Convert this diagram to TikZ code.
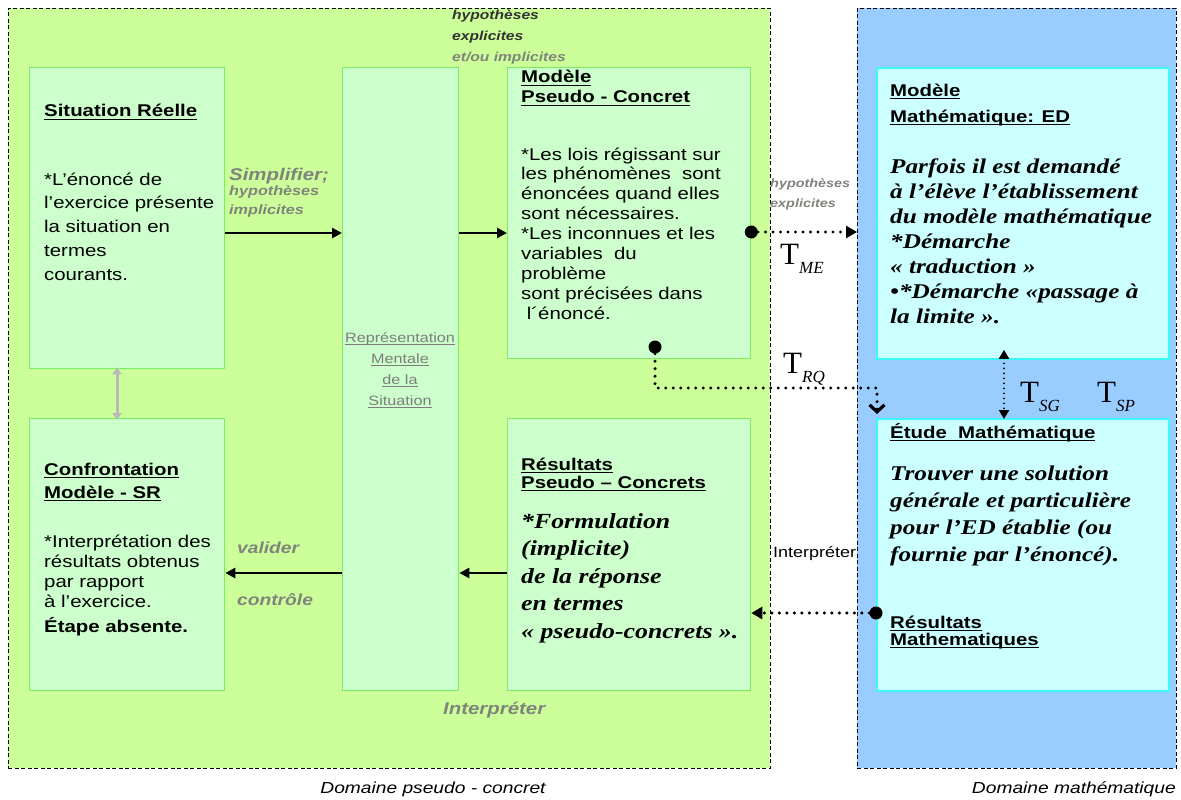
\documentclass[tikz,border=0pt]{standalone}
\usepackage{fontspec}
\setmainfont{Liberation Sans}[FakeStretch=1.2]
\newfontfamily\palf{Liberation Serif}[FakeStretch=1.2]
\newfontfamily\tmsf{Liberation Serif}
\newsavebox\myulbox
\newcommand\myul[1]{\sbox\myulbox{#1}\leavevmode\rlap{\rule[-3pt]{\wd\myulbox}{1.4pt}}\usebox\myulbox}
\newcommand\lstack[2][l]{\begin{tabular}[t]{@{}#1@{}}#2\end{tabular}}
\usetikzlibrary{arrows.meta}
\definecolor{greendom}{RGB}{204,255,153}
\definecolor{bluedom}{RGB}{153,204,255}
\definecolor{gboxfill}{RGB}{204,255,204}
\definecolor{gboxline}{RGB}{120,238,100}
\definecolor{cboxfill}{RGB}{204,255,255}
\definecolor{cboxline}{RGB}{60,250,250}
\definecolor{labgray}{RGB}{128,132,124}
\definecolor{repgray}{RGB}{125,125,125}
\definecolor{arrgray}{RGB}{185,185,185}
\newcommand\Tlab[1]{{\tmsf\fontsize{31}{31}\selectfont T}\raisebox{-9pt}{\tmsf\itshape\fontsize{17}{17}\selectfont #1}}
\begin{document}
\begin{tikzpicture}[x=1pt,y=-1pt,
  dom/.style={draw=black, line width=0.9pt, dash pattern=on 4pt off 2.5pt, inner sep=0, anchor=north west},
  gbox/.style={draw=gboxline, line width=1.3pt, fill=gboxfill, inner sep=0, anchor=north west},
  cbox/.style={draw=cboxline, line width=1.8pt, fill=cboxfill, inner sep=0, anchor=north west},
  txt/.style={anchor=base west, inner sep=0},
  ttl/.style={txt, font=\fontsize{17}{18}\selectfont\bfseries},
  body/.style={txt, font=\fontsize{17}{19.5}\selectfont},
  serifbody/.style={txt, font=\palf\fontsize{21}{25}\selectfont\bfseries\itshape},
  glab/.style={txt, text=labgray, font=\bfseries\itshape\fontsize{13}{18}\selectfont},
  bigarrow/.style={line width=2.6pt, -{Triangle[length=10pt,width=10pt]}},
  dotline/.style={line width=3.4pt, dash pattern=on 0pt off 7.5pt, line cap=round},
  dotc/.style={circle, fill=black, inner sep=0, minimum size=13pt},
]
\useasboundingbox (0,0) rectangle (1181,800);
\fill[white] (0,0) rectangle (1181,800);

% domains
\node[dom, fill=greendom, minimum width=762pt, minimum height=760pt] (gdom) at (8,8) {};
\node[dom, fill=bluedom, minimum width=319pt, minimum height=760pt] (bdom) at (857,8) {};

% boxes
\node[gbox, minimum width=195pt, minimum height=301pt] (sitr) at (29,67) {};
\node[gbox, minimum width=195pt, minimum height=272pt] (conf) at (29,418) {};
\node[gbox, minimum width=116pt, minimum height=623pt] (rep) at (342,67) {};
\node[gbox, minimum width=243pt, minimum height=291pt] (mpc) at (507,67) {};
\node[gbox, minimum width=243pt, minimum height=272pt] (rpc) at (507,418) {};
\node[cbox, minimum width=292pt, minimum height=291pt] (mm) at (876,67) {};
\node[cbox, minimum width=292pt, minimum height=272pt] (em) at (876,418) {};

% Situation reelle
\node[ttl] (sitrT) at (44,117) {\myul{Situation Réelle}};
\node[txt, font=\fontsize{17}{23.8}\selectfont] (sitrB) at (44,185) {\lstack{*L’énoncé de\\l’exercice présente\\la situation en\\termes\\courants.}};

% Modele pseudo-concret
\node[ttl, font=\fontsize{17}{20}\selectfont\bfseries] (mpcT) at (521,83) {\lstack{\myul{Modèle}\\\myul{Pseudo - Concret}}};
\node[body, font=\fontsize{17}{19.9}\selectfont] (mpcB) at (521,160) {\lstack{*Les lois régissant sur\\les phénomènes\ \ sont\\énoncées quand elles\\sont nécessaires.\\{}*Les inconnues et les\\variables\ \ du\\problème\\sont précisées dans\\\ l´énoncé.}};

% Confrontation
\node[ttl, font=\fontsize{17}{23}\selectfont\bfseries] (confT) at (44,475) {\lstack{\myul{Confrontation}\\\myul{Modèle - SR}}};
\node[body, font=\fontsize{17}{20}\selectfont] (confB) at (44,547) {\lstack{*Interprétation des\\résultats obtenus\\par rapport\\à l’exercice.}};
\node[txt, font=\fontsize{17}{19}\selectfont\bfseries] (confE) at (44,632) {Étape absente.};

% Resultats pseudo-concrets
\node[ttl, font=\fontsize{17}{18}\selectfont\bfseries] (rpcT) at (521,470) {\lstack{\myul{Résultats}\\\myul{Pseudo – Concrets}}};
\node[serifbody, font=\palf\fontsize{21.5}{27.5}\selectfont\bfseries\itshape] (rpcB) at (521,528) {\lstack{*Formulation\\(implicite)\\de la réponse\\en termes\\« pseudo-concrets ».}};

% Representation mentale
\node[anchor=base, inner sep=0, text=repgray, font=\fontsize{13.5}{21}\selectfont] (repT) at (400,342) {\lstack[c]{\myul{Représentation}\\\myul{Mentale}\\\myul{de la}\\\myul{Situation}}};

% Modele mathematique
\node[ttl, font=\fontsize{17}{26}\selectfont\bfseries] (mmT) at (890,96) {\lstack{\myul{Modèle}\\\myul{Mathématique: ED}}};
\node[serifbody] (mmB) at (890,173) {\lstack{Parfois il est demandé\\à l’élève l’établissement\\du modèle mathématique\\{}*Démarche\\« traduction »\\•*Démarche «passage à\\la limite ».}};

% Etude mathematique
\node[ttl] (emT) at (890,438) {\myul{Étude\ \ Mathématique}};
\node[serifbody, font=\palf\fontsize{21}{27.3}\selectfont\bfseries\itshape] (emB) at (890,480) {\lstack{Trouver une solution\\générale et particulière\\pour l’ED établie (ou\\fournie par l’énoncé).}};
\node[ttl, font=\fontsize{17}{17}\selectfont\bfseries] (emR) at (890,628) {\lstack{\myul{Résultats}\\\myul{Mathematiques}}};

% top labels
\node[txt, font=\bfseries\itshape\fontsize{13}{20.5}\selectfont, text=black!80] (hypT) at (452,20) {\lstack{hypothèses\\explicites}};
\node[txt, font=\bfseries\itshape\fontsize{13}{20}\selectfont, text=labgray] (hypT2) at (452,62) {et/ou implicites};

% arrows between boxes
\coordinate (ya) at (0,233);
\coordinate (yb) at (0,573);
\draw[bigarrow] (sitr.east |- ya) -- (rep.west |- ya);
\draw[bigarrow] (rep.east |- ya) -- (mpc.west |- ya);
\draw[bigarrow] (rep.west |- yb) -- (conf.east |- yb);
\draw[bigarrow] (rpc.west |- yb) -- (rep.east |- yb);

\node[txt, text=labgray, font=\bfseries\itshape\fontsize{17}{18}\selectfont] (simp) at (229,180) {Simplifier;};
\node[glab, font=\bfseries\itshape\fontsize{13.5}{19}\selectfont] (simp2) at (229,195) {\lstack{hypothèses\\implicites}};
\node[txt, text=labgray, font=\bfseries\itshape\fontsize{16}{18}\selectfont] (val) at (237,553) {valider};
\node[txt, text=labgray, font=\bfseries\itshape\fontsize{16}{18}\selectfont] (ctrl) at (237,605) {contrôle};
\node[txt, text=labgray, font=\bfseries\itshape\fontsize{17}{18}\selectfont] (interp) at (443,714) {Interpréter};

% gray double arrow
\coordinate (xg) at (117,0);
\draw[arrgray, line width=3pt, {Triangle[length=7pt,width=9pt]}-{Triangle[length=7pt,width=9pt]}] ([yshift=2pt]sitr.south -| xg) -- ([yshift=-2pt]conf.north -| xg);

% T_ME dotted arrow
\coordinate (yme) at (0,232);
\node[dotc] (d1) at (mpc.east |- yme) {};
\draw[dotline, -{Triangle[length=11pt,width=12pt]}] (d1) -- (bdom.west |- yme);
\node[glab, font=\bfseries\itshape\fontsize{12}{20}\selectfont] (hypE) at (770,187) {\lstack{hypothèses\\explicites}};
\node[txt] (tme) at (780,264) {\Tlab{ME}};

% T_RQ dotted arrow
\node[dotc] (d2) at (655,347) {};
\coordinate (crq) at (877,388);
\draw[dotline, -{Straight Barb[length=7pt,width=15pt,line width=3.2pt]}] (d2) |- (crq) -- ++(0,26);
\node[txt] (trq) at (783,373) {\Tlab{RQ}};

% T_SG up/down
\coordinate (xsg) at (1004,0);
\draw[line width=2pt, dash pattern=on 0pt off 5pt, line cap=round, {Triangle[length=9pt,width=10pt]}-{Triangle[length=9pt,width=10pt]}] ([yshift=10pt]mm.south -| xsg) -- ([yshift=-1pt]em.north -| xsg);
\node[txt] (tsg) at (1020,402) {\Tlab{SG}};
\node[txt] (tsp) at (1097,402) {\Tlab{SP}};

% Interpreter dotted arrow
\coordinate (yint) at (0,613);
\node[dotc] (d3) at (em.west |- yint) {};
\draw[dotline, -{Triangle[length=11pt,width=12pt]}] (d3) -- (rpc.east |- yint);
\node[txt, font=\fontsize{15}{16}\selectfont] (interp2) at (773,557) {Interpréter};

% domain captions
\node[anchor=base, inner sep=0, font=\itshape\fontsize{16}{18}\selectfont] (capg) at (433,793) {Domaine pseudo - concret};
\node[anchor=base east, inner sep=0, font=\itshape\fontsize{16}{18}\selectfont] (capb) at (1176,793) {Domaine mathématique};
\end{tikzpicture}
\end{document}
